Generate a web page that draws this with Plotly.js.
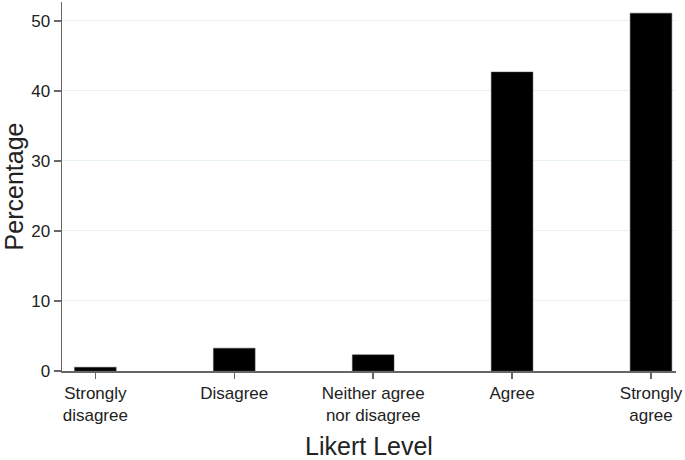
<!DOCTYPE html>
<html><head><meta charset="utf-8">
<script src="https://cdn.plot.ly/plotly-3.0.1.min.js"></script>
<style>html,body{margin:0;padding:0;background:#fff;}#chart{width:685px;height:460px;}</style>
</head><body><div id="chart"></div>
<script>
var categories = ["Strongly<br>disagree", "Disagree", "Neither agree<br>nor disagree", "Agree", "Strongly<br>agree"];
var percentages = [0.54, 3.26, 2.31, 42.7, 51.1];
var yTicks = [0, 10, 20, 30, 40, 50];

var trace = {
  type: 'bar',
  x: [0, 1, 2, 3, 4],
  y: percentages,
  width: 0.3,
  marker: {color: '#000000', line: {color: '#444', width: 0.5}},
  hoverinfo: 'skip'
};
var font = "Liberation Sans, Arial, Helvetica, sans-serif";
var layout = {
  width: 685, height: 460,
  margin: {l: 62, r: 9, t: 2, b: 89},
  paper_bgcolor: '#fff', plot_bgcolor: '#fff',
  showlegend: false,
  font: {family: font, color: '#222', size: 17},
  bargap: 0,
  xaxis: {
    range: [-0.24, 4.18],
    tickmode: 'array', tickvals: [0, 1, 2, 3, 4], ticktext: categories,
    ticks: 'outside', ticklen: 6, tickwidth: 1.5, tickcolor: '#666',
    showline: true, linecolor: '#666', linewidth: 1.5,
    showgrid: false, zeroline: false,
    tickfont: {size: 17, family: font, color: '#222'},
    title: {text: 'Likert Level', font: {size: 25, family: font, color: '#222'}, standoff: 17},
    automargin: false
  },
  yaxis: {
    range: [0, 52.7],
    tickmode: 'array', tickvals: yTicks, ticktext: yTicks.map(String),
    ticks: 'outside', ticklen: 7, tickwidth: 1.5, tickcolor: '#666',
    showline: true, linecolor: '#666', linewidth: 1.5,
    showgrid: true, gridcolor: '#e8f1f6', gridwidth: 1,
    zeroline: false,
    tickfont: {size: 17, family: font, color: '#222'},
    title: {text: 'Percentage', font: {size: 25, family: font, color: '#222'}, standoff: 12},
    automargin: false
  }
};
Plotly.newPlot('chart', [trace], layout, {displayModeBar: false, staticPlot: true});
</script></body></html>
